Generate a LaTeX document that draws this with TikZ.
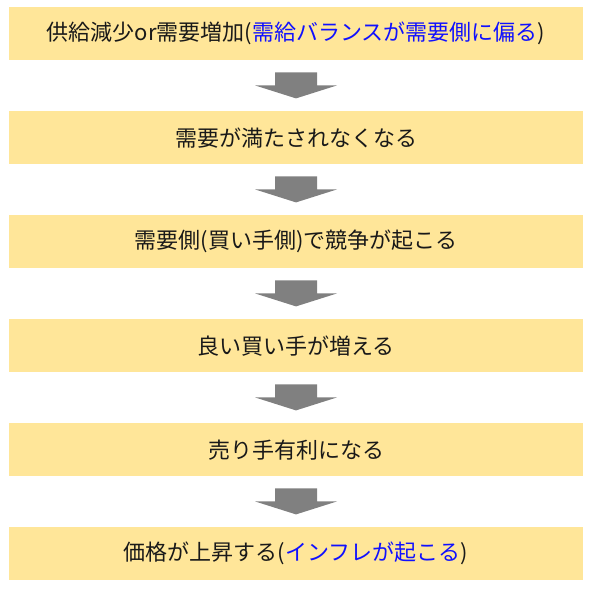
\documentclass[tikz,border=0pt]{standalone}
\usepackage{fontspec}
\usetikzlibrary{calc}
\setmainfont{Noto Sans CJK JP}
\definecolor{boxfill}{HTML}{FFE699}
\definecolor{arrowgray}{HTML}{808080}
\definecolor{bluetext}{HTML}{1010FF}
\begin{document}
\begin{tikzpicture}[x=1pt,y=-1pt,
  stepbox/.style={fill=boxfill, draw=none, minimum width=574pt, minimum height=53pt, inner sep=0pt, font=\fontsize{22}{26}\selectfont, text=black!90, anchor=north},
  blockarrow/.style={fill=arrowgray, draw=none}]
\useasboundingbox (0,0) rectangle (593,590);
\node[stepbox] (b1) at (296,7) {供給減少or需要増加(\textcolor{bluetext}{需給バランスが需要側に偏る})};
\node[stepbox] (b2) at (296,111) {需要が満たされなくなる};
\node[stepbox] (b3) at (296,215) {需要側(買い手側)で競争が起こる};
\node[stepbox] (b4) at (296,319) {良い買い手が増える};
\node[stepbox] (b5) at (296,423) {売り手有利になる};
\node[stepbox] (b6) at (296,527) {価格が上昇する(\textcolor{bluetext}{インフレが起こる})};
\foreach \a in {b1,b2,b3,b4,b5}{
  \coordinate (\a top) at ($(\a.south)+(0,12)$);
  \fill[blockarrow] ($(\a top)+(-21,0)$) -- ++(42,0) -- ++(0,13) -- ++(20,0) -- ($(\a top)+(0,26)$) -- ++(-41,-13) -- ++(20,0) -- cycle;
}
\end{tikzpicture}
\end{document}
